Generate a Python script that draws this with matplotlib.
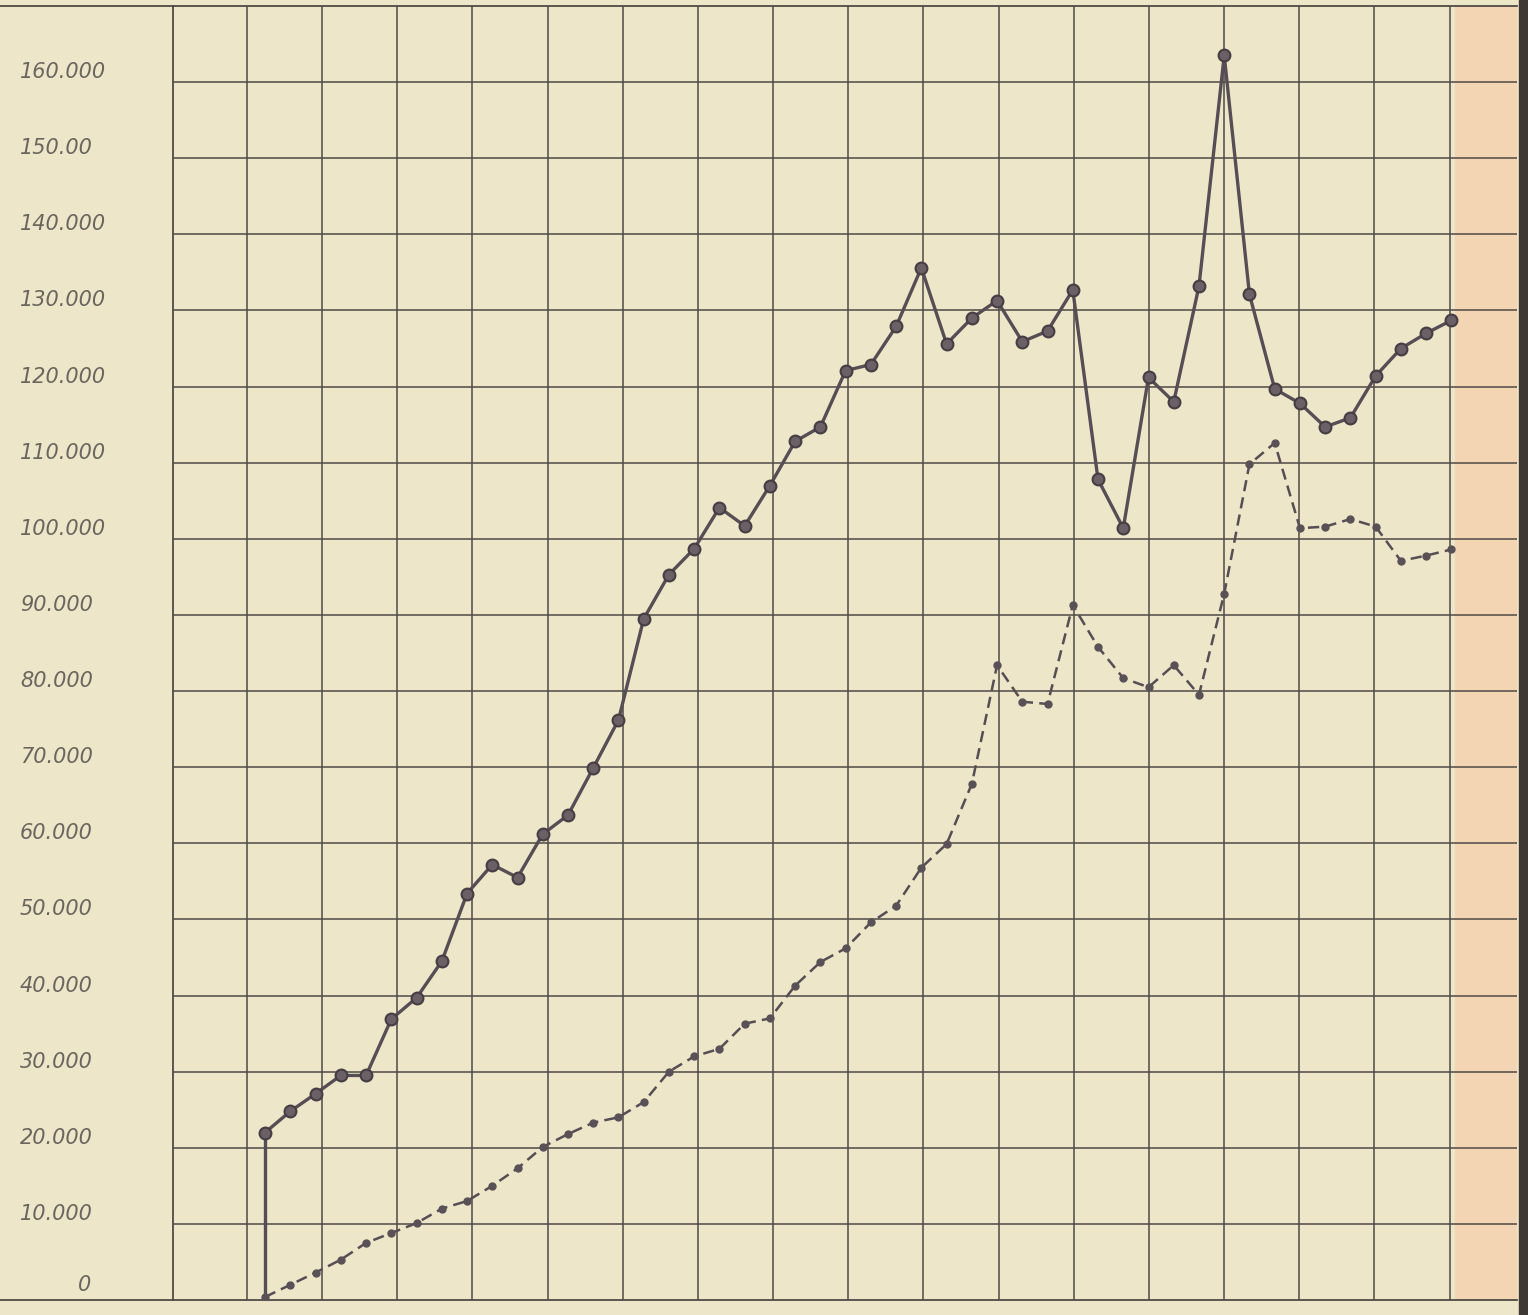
import numpy as np
import matplotlib.pyplot as plt
from matplotlib.patches import Rectangle

# values in thousands, one point per year (3 points per grid column)
solid_vals = [22.0, 24.8, 27.1, 29.5, 29.5, 36.9, 39.7, 44.5, 53.4, 57.2,
              55.5, 61.2, 63.7, 69.9, 76.2, 89.5, 95.3, 98.7, 104.1, 101.7,
              107.0, 112.8, 114.7, 122.1, 122.9, 127.9, 135.6, 125.6, 129.0, 131.3,
              125.9, 127.3, 132.7, 107.8, 101.4, 121.2, 118.0, 133.2, 163.5, 132.1,
              119.7, 117.8, 114.7, 115.9, 121.4, 125.0, 127.0, 128.7]
dashed_vals = [0.4, 2.0, 3.6, 5.3, 7.5, 8.8, 10.1, 12.0, 13.0, 15.0,
               17.3, 20.1, 21.8, 23.3, 24.0, 26.0, 30.0, 32.0, 33.0, 36.3,
               37.0, 41.3, 44.4, 46.2, 49.6, 51.8, 56.8, 59.9, 67.8, 83.4,
               78.6, 78.3, 91.3, 85.8, 81.7, 80.5, 83.4, 79.5, 92.8, 109.8,
               112.6, 101.4, 101.6, 102.6, 101.6, 97.1, 97.8, 98.6]

tick_vals = [0, 10, 20, 30, 40, 50, 60, 70, 80, 90, 100, 110, 120, 130, 140, 150, 160]
tick_labels = ["0", "10.000", "20.000", "30.000", "40.000", "50.000", "60.000",
               "70.000", "80.000", "90.000", "100.000", "110.000", "120.000",
               "130.000", "140.000", "150.00", "160.000"]

paper = '#EDE6C8'
ink = '#4f4a45'
line_col = '#574d54'

x = np.arange(len(solid_vals))

fig = plt.figure(figsize=(15.28, 13.15), dpi=100, facecolor=paper)
ax = fig.add_axes([173 / 1528, 15 / 1315, 1344 / 1528, 1294 / 1315])
ax.set_facecolor(paper)

ax.set_xlim(-3.65, 49.6)
ax.set_ylim(0, 170)

# stained right margin of the sheet
ax.axvspan(47.15, 49.6, color='#F3D5B3', zorder=0, lw=0)
fig.add_artist(Rectangle((1519 / 1528, 0), 9 / 1528, 1, transform=fig.transFigure,
                         color='#3d3833', zorder=5))

# hand-ruled grid: 17 columns, each a little under 3 years wide
ax.set_xticks(np.linspace(-0.72, 46.93, 17))
ax.set_yticks(np.arange(10, 170, 10))
ax.grid(True, color=ink, lw=1.1, zorder=1)
ax.tick_params(length=0, labelleft=False, labelbottom=False)
for side in ['right', 'top', 'bottom']:
    ax.spines[side].set_visible(False)
ax.spines['left'].set_color(ink)
ax.spines['left'].set_linewidth(1.3)
ax.axhline(0, xmin=-0.13, xmax=1, color=ink, lw=1.3, clip_on=False, zorder=2)
ax.axhline(170, xmin=-0.13, xmax=1, color=ink, lw=1.3, clip_on=False, zorder=2)

# solid series with its vertical start
ax.plot([x[0], x[0]], [0, solid_vals[0]], color=line_col, lw=2.4, zorder=3)
ax.plot(x, solid_vals, color=line_col, lw=2.4, marker='o', ms=8.5,
        mfc='#6a6066', mec='#463e44', mew=1.5, zorder=4)

# dashed series
ax.plot(x, dashed_vals, color=line_col, lw=1.8, ls=(0, (4.5, 2.5)), marker='o', ms=5,
        mfc='#5a5157', mec='#5a5157', zorder=4)

# y labels (italic, slightly above the lines)
for v, lab in zip(tick_vals, tick_labels):
    dx = -95 if lab == "0" else -153
    dy = 15 if lab == "0" else 10
    ax.annotate(lab, xy=(0, v), xycoords=('axes fraction', 'data'),
                xytext=(dx, dy), textcoords='offset pixels',
                ha='left', va='center', fontsize=15, style='italic',
                color='#6b655f', annotation_clip=False)

fig.savefig('out.png', dpi=100, facecolor=paper)
